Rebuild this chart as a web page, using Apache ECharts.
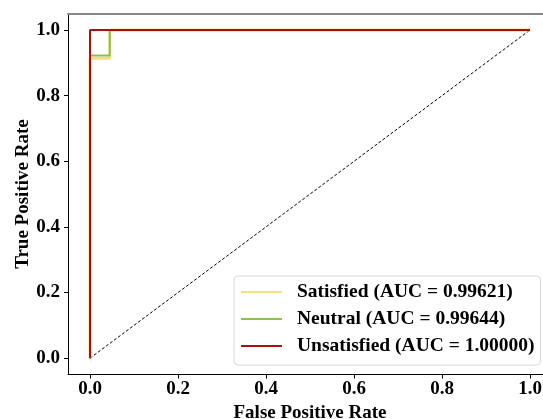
<!DOCTYPE html>
<html><head><meta charset="utf-8">
<script src="https://cdn.jsdelivr.net/npm/echarts@6/dist/echarts.min.js"></script>
<style>html,body{margin:0;padding:0;background:#fff}#c{width:543px;height:419px}</style>
</head><body><div id="c"></div>
<script>
const seriesNames = ['Satisfied (AUC = 0.99621)', 'Neutral (AUC = 0.99644)', 'Unsatisfied (AUC = 1.00000)'];
const satisfiedFPR = [0, 0, 0.045, 0.045, 1];
const satisfiedTPR = [0, 0.914, 0.914, 1, 1];
const neutralFPR = [0, 0, 0.045, 0.045, 1];
const neutralTPR = [0, 0.922, 0.922, 1, 1];
const unsatisfiedFPR = [0, 0, 1];
const unsatisfiedTPR = [0, 1, 1];
const diagFPR = [0, 1];
const diagTPR = [0, 1];
const tickValues = [0, 0.2, 0.4, 0.6, 0.8, 1.0];
const colors = ['#F5DF78', '#8DBE58', '#B00D0D'];

const zip = (a, b) => a.map((v, i) => [v, b[i]]);
const font = '"Liberation Serif","Times New Roman",serif';

const chart = echarts.init(document.getElementById('c'), null, {renderer: 'canvas'});
chart.setOption({
  animation: false,
  grid: {left: 68, top: 13.6, width: 484, height: 361, containLabel: false, outerBoundsMode: 'none'},
  xAxis: [{
    type: 'value', min: -0.05, max: 1.05,
    name: 'False Positive Rate', nameLocation: 'middle', nameGap: 26,
    nameTextStyle: {fontFamily: font, fontWeight: 'bold', fontSize: 19, color: '#000'},
    axisLine: {show: true, onZero: false, lineStyle: {color: '#000', width: 1}},
    axisTick: {show: true, inside: false, length: 4, customValues: tickValues, lineStyle: {color: '#000'}},
    axisLabel: {customValues: tickValues, formatter: v => v.toFixed(1), fontFamily: font, fontWeight: 'bold', fontSize: 19, color: '#000', margin: 5},
    splitLine: {show: false}
  }, {
    type: 'value', position: 'top', min: -0.05, max: 1.05,
    axisLine: {show: true, onZero: false, lineStyle: {color: '#888', width: 2}},
    axisTick: {show: false}, axisLabel: {show: false}, splitLine: {show: false}
  }],
  yAxis: [{
    type: 'value', min: -0.05, max: 1.05,
    name: 'True Positive Rate', nameLocation: 'middle', nameGap: 35, nameMoveOverlap: false,
    nameTextStyle: {fontFamily: font, fontWeight: 'bold', fontSize: 19, color: '#000'},
    axisLine: {show: true, onZero: false, lineStyle: {color: '#000', width: 1}},
    axisTick: {show: true, inside: false, length: 4, customValues: tickValues, lineStyle: {color: '#000'}},
    axisLabel: {customValues: tickValues, formatter: v => v.toFixed(1), fontFamily: font, fontWeight: 'bold', fontSize: 19, color: '#000', margin: 8},
    splitLine: {show: false}
  }],
  legend: {
    left: 234, top: 276,
    orient: 'vertical',
    data: seriesNames.map((n, i) => ({name: n, icon: 'rect', itemStyle: {color: colors[i]}})),
    itemWidth: 41, itemHeight: 2, itemGap: 7,
    padding: [6, 6, 9, 7],
    borderColor: '#d8d8d8', borderWidth: 1, borderRadius: 4,
    backgroundColor: 'rgba(255,255,255,0.8)',
    textStyle: {fontFamily: font, fontWeight: 'bold', fontSize: 19.5, lineHeight: 20, color: '#000', padding: [0, 0, 0, 10]}
  },
  series: [
    {name: 'diag', type: 'line', data: zip(diagFPR, diagTPR), symbol: 'none', silent: true,
     lineStyle: {color: '#000', width: 1, type: [3, 2]}, z: 1},
    {name: seriesNames[0], type: 'line', data: zip(satisfiedFPR, satisfiedTPR), symbol: 'none',
     lineStyle: {color: colors[0], width: 3}, itemStyle: {color: colors[0]}, z: 2},
    {name: seriesNames[1], type: 'line', data: zip(neutralFPR, neutralTPR), symbol: 'none',
     lineStyle: {color: colors[1], width: 2}, itemStyle: {color: colors[1]}, z: 3},
    {name: seriesNames[2], type: 'line', data: zip(unsatisfiedFPR, unsatisfiedTPR), symbol: 'none',
     lineStyle: {color: colors[2], width: 2}, itemStyle: {color: colors[2]}, z: 4}
  ]
});
</script></body></html>
